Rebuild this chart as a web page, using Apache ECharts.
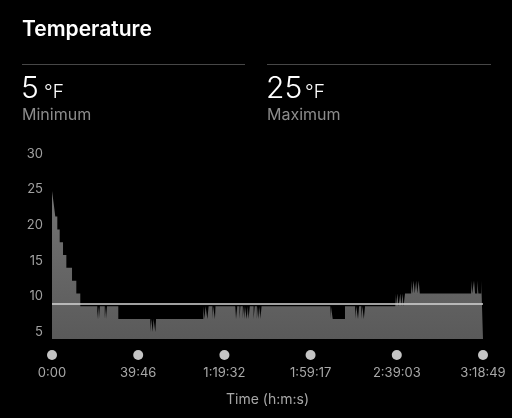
<!DOCTYPE html>
<html>
<head>
<meta charset="utf-8">
<script src="https://cdn.jsdelivr.net/npm/echarts@6/dist/echarts.min.js"></script>
<style>
html,body{margin:0;padding:0;background:#000;}
#c{width:512px;height:418px;}
</style>
</head>
<body>
<div id="c"></div>
<script>
// ---- data ----
var minTempF = 5;
var maxTempF = 25;
var avgTempF = 9.0;
var yTicks = [5, 10, 15, 20, 25, 30];
var xTickSec = [0, 2386, 4772, 7157, 9543, 11929];
var xTickLabels = ['0:00', '39:46', '1:19:32', '1:59:17', '2:39:03', '3:18:49'];
// step samples: temperature (°F) holds from each time (s) until the next one
var timeSec = [
  0, 47, 91, 147, 213, 305, 397, 554, 673, 783,
  1254, 1285, 1300, 1325, 1460, 1480, 1495, 1522,
  1835, 2720, 2745, 2790, 2810, 2860, 2880,
  4188, 4220, 4250, 4300, 4335, 4440, 4460, 4510, 4525,
  5070, 5090, 5110, 5125, 5190, 5215, 5280, 5300, 5320, 5340,
  5390, 5420, 5440, 5475, 5580, 5610, 5670, 5700, 5720, 5750, 5770, 5800,
  7700, 7720, 7770, 8110,
  8390, 8420, 8470, 8500, 8560, 8590, 8630, 8665,
  9500, 9520, 9560, 9590, 9640, 9670, 9700, 9730, 9771,
  9940, 9970, 10010, 10040, 10080, 10110, 10150, 10180,
  11600, 11630, 11680, 11710, 11770, 11800, 11880, 11929
];
var tempF = [
  24.8, 23.0, 21.2, 19.4, 17.6, 15.8, 14.0, 12.2, 10.4, 8.6,
  6.8, 8.6, 6.8, 8.6, 6.8, 8.6, 6.8, 8.6,
  6.8, 5.0, 6.8, 5.0, 6.8, 5.0, 6.8,
  8.6, 6.8, 8.6, 6.8, 8.6, 6.8, 8.6, 6.8, 8.6,
  6.8, 8.6, 6.8, 8.6, 6.8, 8.6, 6.8, 8.6, 6.8, 8.6,
  6.8, 8.6, 6.8, 8.6, 6.8, 8.6, 6.8, 8.6, 6.8, 8.6, 6.8, 8.6,
  6.8, 8.6, 6.8, 8.6,
  6.8, 8.6, 6.8, 8.6, 6.8, 8.6, 6.8, 8.6,
  10.4, 8.6, 10.4, 8.6, 10.4, 8.6, 10.4, 8.6, 10.4,
  12.2, 10.4, 12.2, 10.4, 12.2, 10.4, 12.2, 10.4,
  12.2, 10.4, 12.2, 10.4, 12.2, 10.4, 12.2, 12.2
];

var seriesData = timeSec.map(function (t, i) { return [t, tempF[i]]; });
var FONT = 'Inter, Roboto, "Noto Sans", sans-serif';

var chart = echarts.init(document.getElementById('c'), null, {renderer: 'canvas'});
chart.setOption({
  backgroundColor: '#000',
  animation: false,
  grid: {left: 52, right: 29, top: 154, bottom: 79},
  xAxis: {
    type: 'value',
    min: 0,
    max: xTickSec[xTickSec.length - 1],
    name: 'Time (h:m:s)',
    nameLocation: 'middle',
    nameGap: 54,
    nameTextStyle: {color: '#a8a8a8', fontSize: 14, fontFamily: FONT},
    axisLine: {show: false},
    axisTick: {show: false},
    splitLine: {show: false},
    axisLabel: {
      customValues: xTickSec,
      margin: 11,
      formatter: function (v) {
        var i = xTickSec.indexOf(v);
        return '{d|}\n{t|' + (i >= 0 ? xTickLabels[i] : '') + '}';
      },
      rich: {
        d: {width: 10, height: 10, borderRadius: 5, backgroundColor: '#c4c4c4'},
        t: {color: '#a8a8a8', fontSize: 13, fontFamily: FONT, lineHeight: 27}
      }
    }
  },
  yAxis: {
    type: 'value',
    min: 4,
    max: 30,
    axisLine: {show: false},
    axisTick: {show: false},
    splitLine: {show: false},
    axisLabel: {
      customValues: yTicks,
      margin: 9,
      color: '#a0a0a0',
      fontSize: 13,
      fontFamily: FONT
    }
  },
  series: [{
    type: 'line',
    step: 'end',
    data: seriesData,
    symbol: 'none',
    lineStyle: {width: 0},
    areaStyle: {
      opacity: 1,
      color: new echarts.graphic.LinearGradient(0, 0, 0, 1, [
        {offset: 0, color: '#747474'},
        {offset: 1, color: '#5a5a5a'}
      ])
    },
    markLine: {
      silent: true,
      symbol: 'none',
      label: {show: false},
      lineStyle: {color: '#d6d6d6', width: 1.5, type: 'solid'},
      data: [{yAxis: avgTempF}]
    }
  }],
  graphic: [
    {type: 'text', style: {x: 22, y: 30, text: 'Temperature', font: '600 21px ' + FONT, fill: '#ffffff', textVerticalAlign: 'middle'}},
    {type: 'line', shape: {x1: 22, y1: 64.5, x2: 245, y2: 64.5}, style: {stroke: '#474747', lineWidth: 1}},
    {type: 'line', shape: {x1: 267, y1: 64.5, x2: 491, y2: 64.5}, style: {stroke: '#474747', lineWidth: 1}},
    {type: 'text', style: {x: 21, y: 89, text: String(minTempF), font: '300 30px ' + FONT, fill: '#ffffff', textVerticalAlign: 'middle'}},
    {type: 'text', style: {x: 44, y: 92, text: '°F', font: '300 19px ' + FONT, fill: '#ffffff', textVerticalAlign: 'middle'}},
    {type: 'text', style: {x: 22, y: 115, text: 'Minimum', font: '400 16px ' + FONT, fill: '#8c8c8c', textVerticalAlign: 'middle'}},
    {type: 'text', style: {x: 266, y: 89, text: String(maxTempF), font: '300 30px ' + FONT, fill: '#ffffff', textVerticalAlign: 'middle'}},
    {type: 'text', style: {x: 305, y: 92, text: '°F', font: '300 19px ' + FONT, fill: '#ffffff', textVerticalAlign: 'middle'}},
    {type: 'text', style: {x: 267, y: 115, text: 'Maximum', font: '400 16px ' + FONT, fill: '#8c8c8c', textVerticalAlign: 'middle'}}
  ]
});
</script>
</body>
</html>
